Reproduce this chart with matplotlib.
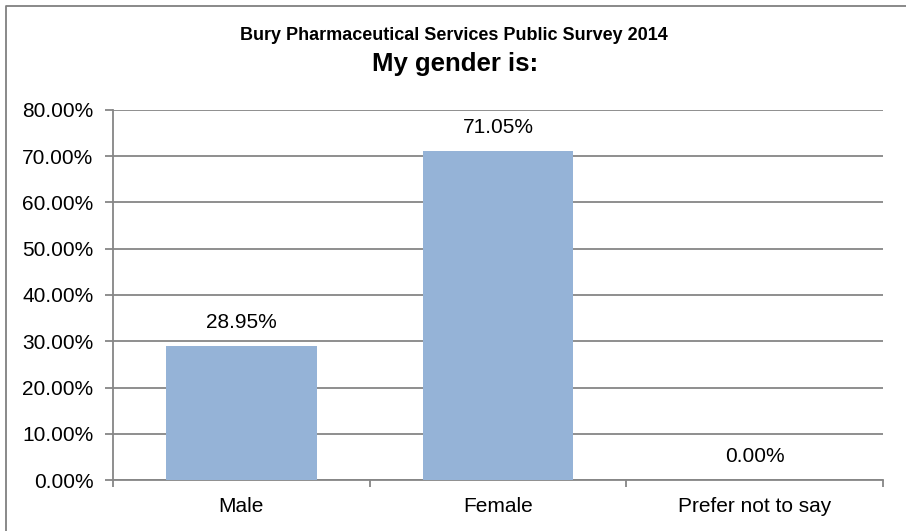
import matplotlib
matplotlib.use("Agg")
import matplotlib.pyplot as plt
import matplotlib.lines as mlines
import numpy as np

plt.rcParams['font.family'] = ['Liberation Sans', 'DejaVu Sans']

categories = ["Male", "Female", "Prefer not to say"]
percent = [28.95, 71.05, 0.00]
yticks = [0, 10, 20, 30, 40, 50, 60, 70, 80]

bar_color = "#95b3d7"
grid_color = "#868686"

fig = plt.figure(figsize=(9.06, 5.31), dpi=100)
ax = fig.add_axes([113/906, 1-480/531, 770/906, 370/531])

# outer chart frame (only top and left edges visible in the source)
fx = 5.5/906
fy = 1 - 5.5/531
fig.lines.append(mlines.Line2D([fx, fx, 1.0], [0.0, fy, fy], transform=fig.transFigure,
                               color="#808080", linewidth=1.3))

x = np.arange(len(categories))
ax.bar(x, percent, width=0.587, color=bar_color, zorder=3)

for xi, v in zip(x, percent):
    ax.annotate("%.2f%%" % v, (xi, v), xytext=(0, 17), textcoords="offset points",
                ha="center", va="center", fontsize=15, color="#000000")

ax.set_xlim(-0.5, 2.5)
ax.set_ylim(0, 80)
ax.set_yticks(yticks)
ax.set_yticklabels(["%.2f%%" % t for t in yticks], fontsize=15)
ax.yaxis.grid(True, color=grid_color, linewidth=1.3, zorder=0)
ax.set_axisbelow(True)

ax.set_xticks(np.arange(-0.5, 3, 1))
ax.set_xticklabels([])
ax.set_xticks(x, minor=True)
ax.set_xticklabels(categories, minor=True, fontsize=15)
ax.tick_params(axis="x", which="minor", length=0, pad=12)
ax.tick_params(axis="x", which="major", length=5, color=grid_color, width=1.3)
ax.tick_params(axis="y", length=6, color=grid_color, width=1.3, pad=8)

for s in ["top", "right"]:
    ax.spines[s].set_visible(False)
for s in ["left", "bottom"]:
    ax.spines[s].set_color(grid_color)
    ax.spines[s].set_linewidth(1.3)

fig.text(454/906, 1-36/531, "Bury Pharmaceutical Services Public Survey 2014",
         ha="center", va="center", fontsize=13, fontweight="bold")
fig.text(455/906, 1-64/531, "My gender is:", ha="center", va="center",
         fontsize=18.5, fontweight="bold")

fig.savefig("out.png", dpi=100)
